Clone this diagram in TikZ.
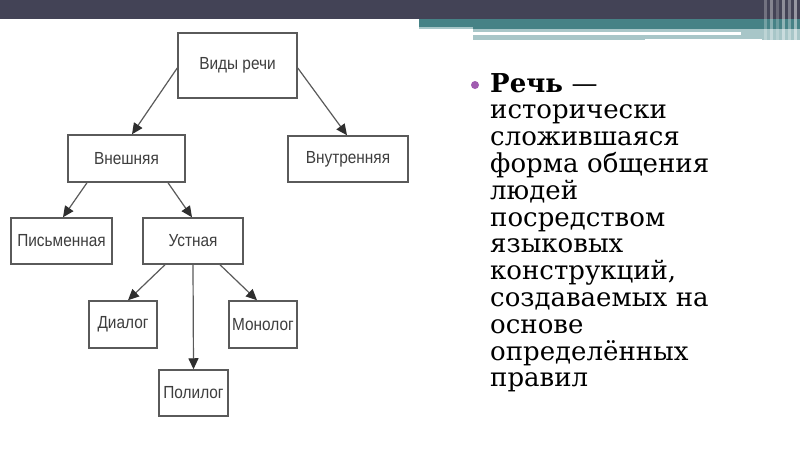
\documentclass[tikz,border=0pt]{standalone}
\usepackage{fontspec}
\usetikzlibrary{arrows.meta}
\newfontfamily\boxfont[FakeStretch=0.88]{Liberation Sans}
\newfontfamily\bodyfont{DejaVu Serif}
\definecolor{topdark}{HTML}{434356}
\definecolor{topteal}{HTML}{468286}
\definecolor{lightteal}{HTML}{A8C6C8}
\definecolor{boxline}{HTML}{5A5A5A}
\definecolor{boxtext}{HTML}{3E3E3E}
\definecolor{tipcolor}{HTML}{2E2E2E}
\definecolor{bulletpurple}{HTML}{A05CB0}
\tikzset{
  box/.style={draw=boxline, line width=1.5pt, fill=white, inner sep=0pt,
    font=\boxfont\fontsize{17.5}{20}\selectfont, text=boxtext},
  conn/.style={draw=boxline, line width=1.2pt,
    -{Triangle[length=11pt,width=10pt,color=tipcolor]}},
}
\begin{document}
\begin{tikzpicture}[x=1pt,y=-1pt]
\useasboundingbox (0,0) rectangle (800,450);
\fill[white] (0,0) rectangle (800,450);
% top decoration
\fill[topdark] (0,0) rectangle (800,19);
\fill[topteal] (419,19) rectangle (800,29);
\fill[lightteal] (419,27) rectangle (473,29);
\fill[lightteal] (473,29) rectangle (800,40);
\fill[white] (645,39) rectangle (762,40);
\fill[white] (473,32) rectangle (741,34.5);
\foreach \x/\o in {764/0.25,770/0.35,776/0.2,782/0.4,788/0.3,794/0.45}
  \fill[white, opacity=\o] (\x,0) rectangle ++(3,40);
% boxes
\node[box, minimum width=119pt, minimum height=65pt] (vr)  at (237.5,65.5) {Виды речи};
\node[box, minimum width=117pt, minimum height=47pt] (vn)  at (126.5,158.5) {Внешняя};
\node[box, minimum width=120pt, minimum height=46pt] (vt)  at (348,159) {Внутренняя};
\node[box, minimum width=101pt, minimum height=46pt] (pis) at (61.5,241) {Письменная};
\node[box, minimum width=100pt, minimum height=46pt] (ust) at (193,241) {Устная};
\node[box, minimum width=68pt, minimum height=47pt] (dia) at (123,324.5) {Диалог};
\node[box, minimum width=68pt, minimum height=47pt] (mon) at (263,324.5) {Монолог};
\node[box, minimum width=69pt, minimum height=46pt] (pol) at (193.5,393) {Полилог};
% connectors
\draw[conn] ([yshift=-2.5pt]vr.west) -- ([xshift=5.5pt]vn.north);
\draw[conn] ([yshift=-2.5pt]vr.east) -- ([xshift=-1pt]vt.north);
\draw[conn] ([xshift=-39.5pt]vn.south) -- ([xshift=1.5pt]pis.north);
\draw[conn] ([xshift=41.5pt]vn.south) -- ([xshift=-1pt]ust.north);
\draw[conn] ([xshift=-28pt]ust.south) -- ([xshift=5pt]dia.north);
\draw[conn] (ust.south) -- (pol.north);
\draw[conn] ([xshift=27pt]ust.south) -- ([xshift=-6pt]mon.north);
% right text
\fill[bulletpurple] (475,85) circle (4pt);
\node[anchor=north west, inner sep=0pt, align=left, text width=300pt,
  font=\bodyfont\fontsize{26}{26.8}\selectfont, text=black] (txt) at (490,73)
  {\textbf{Речь} —\\
   исторически\\
   сложившаяся\\
   форма общения\\
   людей\\
   посредством\\
   языковых\\
   конструкций,\\
   создаваемых на\\
   основе\\
   определённых\\
   правил};
\end{tikzpicture}
\end{document}
